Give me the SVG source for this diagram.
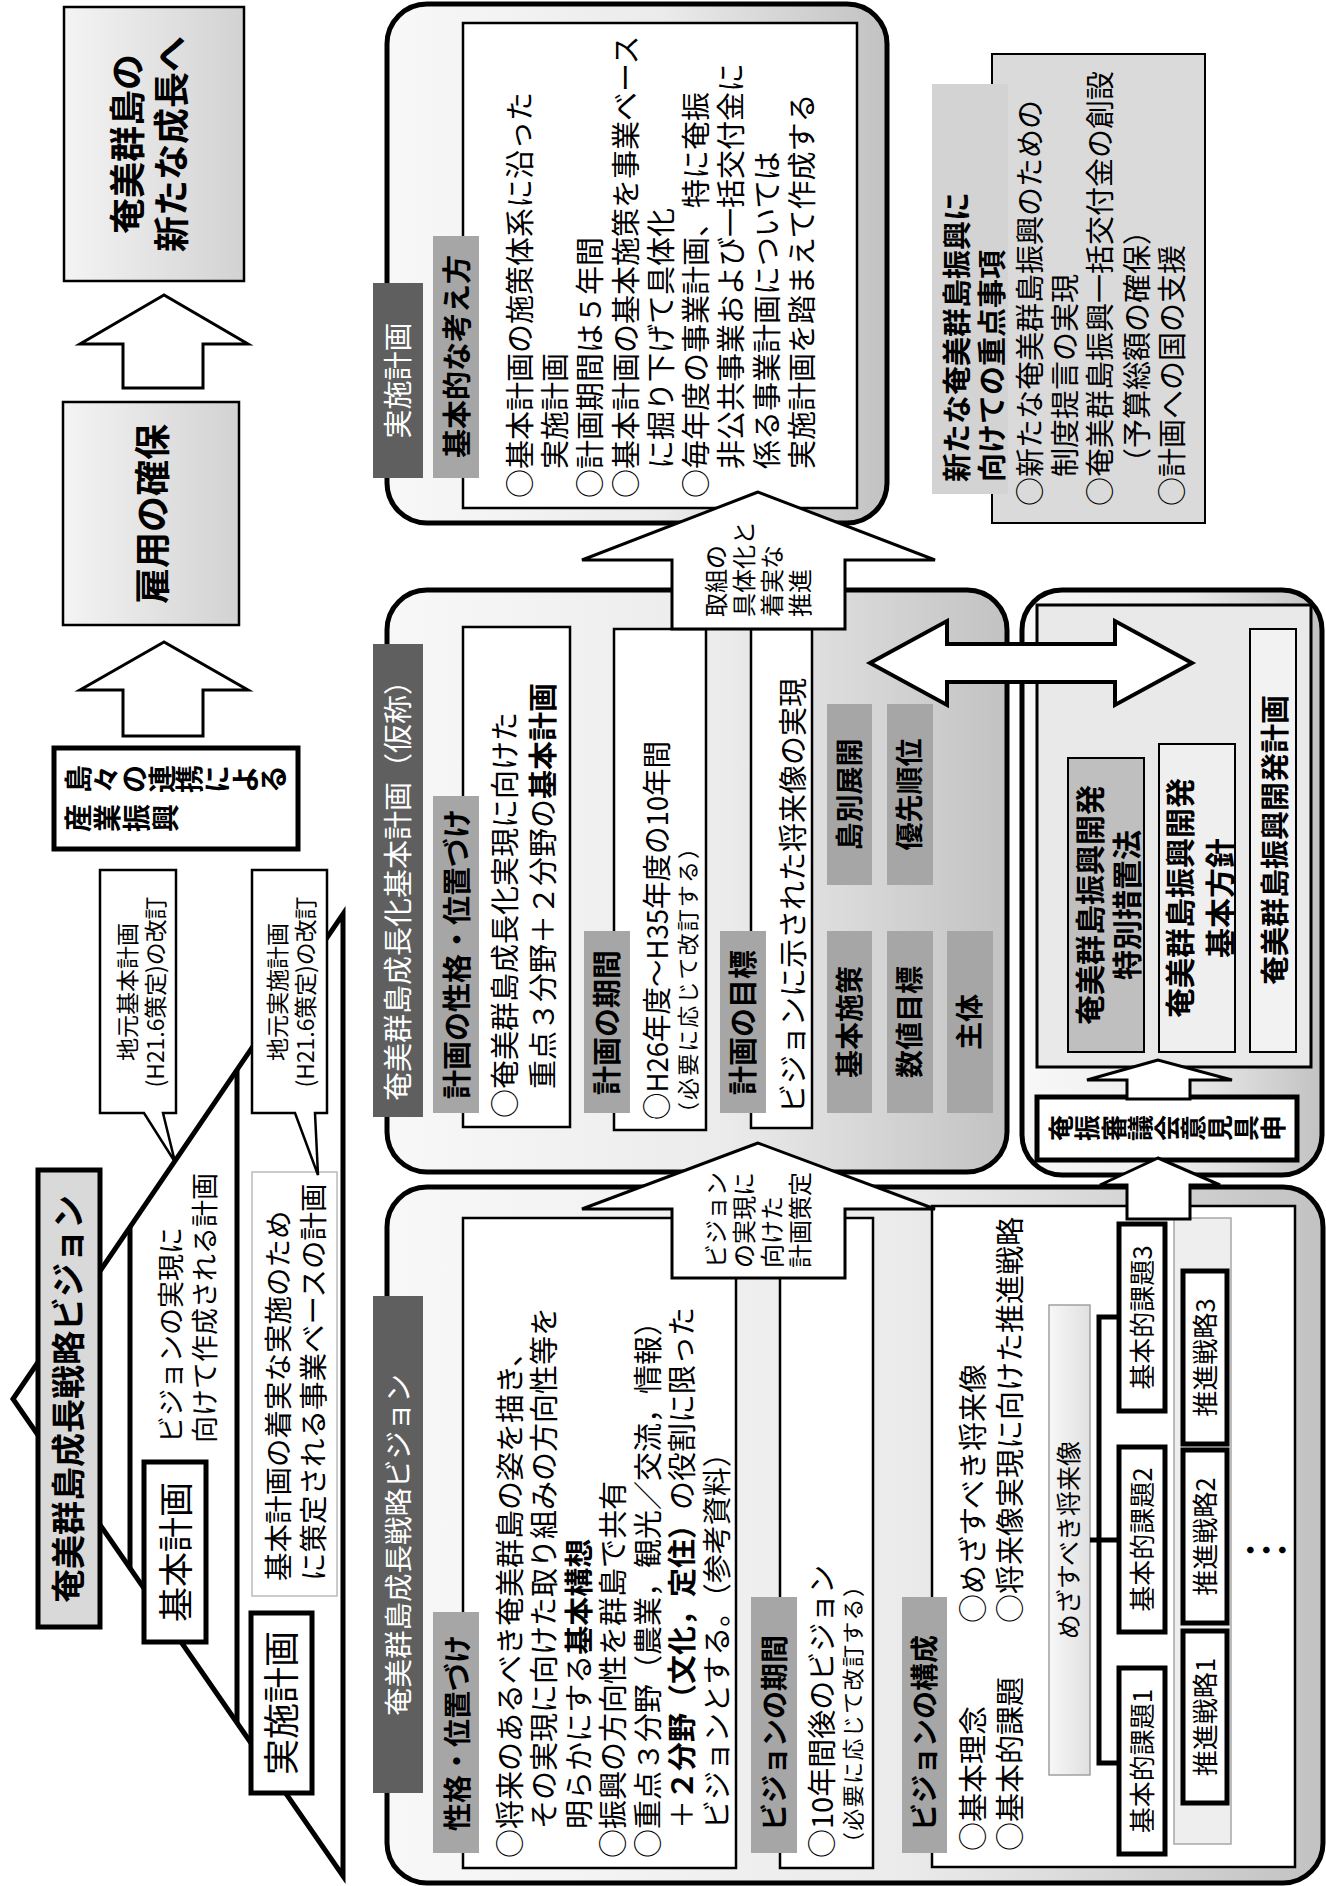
<svg xmlns="http://www.w3.org/2000/svg" width="1326" height="1886" viewBox="0 0 1326 1886">
<defs>
<linearGradient id="gC" x1="0" y1="0" x2="0" y2="1"><stop offset="0" stop-color="#f8f8f8"/><stop offset="0.55" stop-color="#ebebeb"/><stop offset="1" stop-color="#c2c2c2"/></linearGradient>
<linearGradient id="gB" x1="0" y1="0" x2="0" y2="1"><stop offset="0" stop-color="#f4f4f4"/><stop offset="1" stop-color="#d2d2d2"/></linearGradient>
<linearGradient id="gL" x1="0" y1="0" x2="0" y2="1"><stop offset="0" stop-color="#f7f7f7"/><stop offset="1" stop-color="#e0e0e0"/></linearGradient>
<style>
.f{font-family:"Noto Sans CJK JP","Noto Sans",sans-serif;fill:#000}
.b{font-weight:700}
.m{text-anchor:middle}
.wt{fill:#fff}
.s23{font-size:23px}.s24{font-size:24px}.s22{font-size:22px}.s26{font-size:26px}.s27{font-size:27px}.s28{font-size:28px}.s29{font-size:29px}.s30{font-size:30px}.s36{font-size:36px}
.box{fill:#fff;stroke:#000;stroke-width:2.5}
.thk{fill:#fff;stroke:#000;stroke-width:5}
.cont{fill:url(#gC);stroke:#000;stroke-width:5}
.dk{fill:#5f5f5f}
.gy{fill:#a6a6a6}
.arr{fill:#fff;stroke:#000;stroke-width:3;stroke-linejoin:miter}
.ln{fill:none;stroke:#000;stroke-width:5}
</style>
</defs>
<rect width="1326" height="1886" fill="#fff"/>
<g transform="translate(0,1886) rotate(-90)">

<g id="goal">
<rect x="1605" y="64" width="274" height="180" fill="url(#gB)" stroke="#000" stroke-width="2.5"/>
<text class="f b m s36" x="1742" y="141">奄美群島の</text>
<text class="f b m s36" x="1742" y="185">新たな成長へ</text>
</g>

<g id="employment">
<rect x="1261" y="63" width="223" height="176" fill="url(#gB)" stroke="#000" stroke-width="2.5"/>
<text class="f b m s36" x="1372" y="166">雇用の確保</text>
</g>

<g id="industry">
<rect x="1037" y="54" width="101" height="244" class="thk"/>
<text class="f b m s28"><tspan x="1107" y="89.4">島</tspan><tspan x="1107" y="117.2">々</tspan><tspan x="1107" y="144.9">の</tspan><tspan x="1107" y="172.7">連</tspan><tspan x="1107" y="200.4">携</tspan><tspan x="1107" y="228.2">に</tspan><tspan x="1107" y="255.9">よ</tspan><tspan x="1107" y="283.7">る</tspan></text>
<text class="f b m s28"><tspan x="1068" y="89.4">産</tspan><tspan x="1068" y="118.2">業</tspan><tspan x="1068" y="146.9">振</tspan><tspan x="1068" y="175.7">興</tspan></text>
</g>

<g id="pyramid">
<polygon points="487,13 972,343 10,343" fill="#fff" stroke="#000" stroke-width="5"/>
<line x1="318" y1="130" x2="659" y2="130" class="ln"/>
<line x1="163" y1="237" x2="816" y2="237" class="ln"/>
<rect x="259" y="38" width="457" height="62" fill="#d9d9d9" stroke="#000" stroke-width="5"/>
<text class="f b m" style="font-size:34px" x="487" y="80.5">奄美群島成長戦略ビジョン</text>
<rect x="244" y="144" width="180" height="62" class="thk"/>
<text class="f m" style="font-size:35px" x="334" y="189">基本計画</text>
<rect x="93" y="251" width="180" height="61" class="thk"/>
<text class="f m s36" x="183" y="295">実施計画</text>
<text class="f s27" x="443" y="181">ビジョンの実現に</text>
<text class="f s27" x="443" y="215">向けて作成される計画</text>
<rect x="290" y="252" width="424" height="85" fill="#fff" stroke="#bbb" stroke-width="1.5"/>
<text class="f" style="font-size:28.5px" x="305" y="288.5">基本計画の着実な実施のため</text>
<text class="f" style="font-size:28.5px" x="305" y="323.5">に策定される事業ベースの計画</text>
</g>

<g id="callout-basic">
<path d="M773,100 H1016 V176 H773 V163 L724,175 L773,144 Z" fill="#fff" stroke="#000" stroke-width="2.5" stroke-linejoin="miter"/>
<text class="f m s23" x="894" y="135.5">地元基本計画</text>
<text class="f m s23" x="894" y="163.5" textLength="191" lengthAdjust="spacingAndGlyphs">(H21.6策定)の改訂</text>
</g>

<g id="callout-impl">
<path d="M773,252 H1016 V327 H773 V315 L711,318 L773,295 Z" fill="#fff" stroke="#000" stroke-width="2.5" stroke-linejoin="miter"/>
<text class="f m s23" x="894" y="285.5">地元実施計画</text>
<text class="f m s23" x="894" y="313.5" textLength="191" lengthAdjust="spacingAndGlyphs">(H21.6策定)の改訂</text>
</g>

<g id="impl-plan">
<rect x="1363" y="387" width="519" height="500" rx="40" class="cont"/>
<rect x="1378" y="463" width="485" height="394" class="box"/>
<rect x="1408" y="373" width="195" height="50" class="dk"/>
<text class="f wt m s29" x="1505.5" y="408.7">実施計画</text>
<rect x="1408" y="433" width="242" height="46" class="gy"/>
<text class="f b s29" x="1428" y="467.7">基本的な考え方</text>
<text class="f s29" x="1388" y="530.7">○基本計画の施策体系に沿った</text>
<text class="f s29" x="1417" y="565.7">実施計画</text>
<text class="f s29" x="1388" y="601.2">○計画期間は５年間</text>
<text class="f s29" x="1388" y="636.7">○基本計画の基本施策を事業ベース</text>
<text class="f s29" x="1417" y="671.7">に掘り下げて具体化</text>
<text class="f s29" x="1388" y="706.7">○毎年度の事業計画、特に奄振</text>
<text class="f s29" x="1417" y="742.2">非公共事業および一括交付金に</text>
<text class="f s29" x="1417" y="777.7">係る事業計画については</text>
<text class="f s29" x="1417" y="812.7">実施計画を踏まえて作成する</text>
</g>

<g id="priorities">
<rect x="1363" y="992" width="469" height="213" fill="#dadada" stroke="#000" stroke-width="2"/>
<rect x="1392" y="932" width="410" height="76" fill="#d3d3d3"/>
<text class="f b s29" x="1404" y="967.7">新たな奄美群島振興に</text>
<text class="f b s29" x="1404" y="1002.7">向けての重点事項</text>
<text class="f s29" x="1380" y="1040.7">○新たな奄美群島振興のための</text>
<text class="f s29" x="1409" y="1075.7">制度提言の実現</text>
<text class="f s29" x="1380" y="1110.7">○奄美群島振興一括交付金の創設</text>
<text class="f s29" x="1409" y="1147.7">（予算総額の確保）</text>
<text class="f s29" x="1380" y="1182.7">○計画への国の支援</text>
</g>

<g id="basic-plan">
<rect x="714" y="387" width="582" height="620" rx="40" class="cont"/>
<rect x="769" y="373" width="473" height="50" class="dk"/>
<text class="f wt s29" x="785" y="408.7">奄美群島成長化基本計画（仮称）</text>
<rect x="759" y="463" width="500" height="107" class="box"/>
<rect x="773" y="433" width="317" height="46" class="gy"/>
<text class="f b s29" x="787" y="467.7">計画の性格・位置づけ</text>
<text class="f s29" x="768" y="515.7">○奄美群島成長化実現に向けた</text>
<text class="f s29" x="797" y="553.7">重点３分野＋２分野の<tspan class="b">基本計画</tspan></text>
<rect x="756" y="614" width="501" height="92" class="box"/>
<rect x="773" y="584" width="182" height="46" class="gy"/>
<text class="f b s29" x="791" y="617.7">計画の期間</text>
<text class="f s29" x="766" y="667.7" textLength="379" lengthAdjust="spacingAndGlyphs">○H26年度～H35年度の10年間</text>
<text class="f s22" x="762" y="695.8" textLength="287" lengthAdjust="spacing">（必要に応じて改訂する）</text>
<rect x="758" y="751" width="499" height="61" class="box"/>
<rect x="773" y="720" width="182" height="46" class="gy"/>
<text class="f b s29" x="791" y="753.7">計画の目標</text>
<text class="f s29" x="773" y="803.7">ビジョンに示された将来像の実現</text>
<rect x="773" y="827" width="182" height="45" class="gy"/>
<text class="f b m s28" x="864" y="859.9">基本施策</text>
<rect x="1001" y="827" width="181" height="45" class="gy"/>
<text class="f b m s28" x="1091.5" y="859.9">島別展開</text>
<rect x="773" y="887" width="182" height="46" class="gy"/>
<text class="f b m s28" x="864" y="920.4">数値目標</text>
<rect x="1001" y="887" width="181" height="46" class="gy"/>
<text class="f b m s28" x="1091.5" y="920.4">優先順位</text>
<rect x="773" y="947" width="182" height="46" class="gy"/>
<text class="f b m s28" x="864" y="980.4">主体</text>
</g>

<g id="amashin">
<rect x="711" y="1022" width="585" height="300" rx="40" class="cont"/>
<rect x="819" y="1037" width="462" height="274" fill="#e9e9e9" stroke="#000" stroke-width="3"/>
<rect x="834" y="1068" width="294" height="76" fill="#bfbfbf" stroke="#000" stroke-width="2"/>
<text class="f b m s30" x="981" y="1101">奄美群島振興開発</text>
<text class="f b m s30" x="981" y="1138">特別措置法</text>
<rect x="834" y="1159" width="308" height="76" fill="#efefef" stroke="#000" stroke-width="2"/>
<text class="f b m s30" x="988" y="1191">奄美群島振興開発</text>
<text class="f b m s30" x="988" y="1231">基本方針</text>
<rect x="834" y="1250" width="423" height="46" fill="#f2f2f2" stroke="#000" stroke-width="2"/>
<text class="f b m s29" x="1046" y="1286">奄美群島振興開発計画</text>
</g>

<g id="council">
<rect x="726" y="1037" width="63" height="260" class="thk"/>
<text class="f b m s26"><tspan x="758" y="1070.9">奄</tspan><tspan x="758" y="1097.4">振</tspan><tspan x="758" y="1123.9">審</tspan><tspan x="758" y="1150.4">議</tspan><tspan x="758" y="1176.9">会</tspan><tspan x="758" y="1203.4">意</tspan><tspan x="758" y="1229.9">見</tspan><tspan x="758" y="1256.4">具</tspan><tspan x="758" y="1282.9">申</tspan></text>
</g>

<g id="vision">
<rect x="3" y="387" width="696" height="936" rx="40" class="cont"/>
<rect x="93" y="373" width="497" height="50" class="dk"/>
<text class="f wt m" style="font-size:28.5px" x="341" y="408.5">奄美群島成長戦略ビジョン</text>
<rect x="18" y="463" width="650" height="273" class="box"/>
<rect x="33" y="433" width="241" height="46" class="gy"/>
<text class="f b s28" x="55" y="467.5">性格・位置づけ</text>
<text class="f s29" x="28" y="520.7">○将来のあるべき奄美群島の姿を描き、</text>
<text class="f s29" x="57" y="555.2">その実現に向けた取り組みの方向性等を</text>
<text class="f s29" x="57" y="589.7">明らかにする<tspan class="b">基本構想</tspan></text>
<text class="f s29" x="28" y="624.2">○振興の方向性を群島で共有</text>
<text class="f s29" x="28" y="658.7">○重点３分野（農業，観光／交流，情報）</text>
<text class="f s29" x="57" y="693.2">＋<tspan class="b">２分野（文化，定住）</tspan>の役割に限った</text>
<text class="f s29" x="57" y="727.7">ビジョンとする。（参考資料）</text>
<rect x="18" y="780" width="650" height="93" class="box"/>
<rect x="33" y="751" width="256" height="46" class="gy"/>
<text class="f b s28" x="55" y="784.5">ビジョンの期間</text>
<text class="f s29" x="28" y="832.7">○10年間後のビジョン</text>
<text class="f s22" x="32" y="860.8" textLength="279" lengthAdjust="spacing">（必要に応じて改訂する）</text>
<rect x="19" y="932" width="661" height="363" class="box"/>
<rect x="33" y="902" width="256" height="45" class="gy"/>
<text class="f b s28" x="55" y="935">ビジョンの構成</text>
<text class="f s29" x="35" y="983.7">○基本理念</text>
<text class="f s29" x="35" y="1020.7">○基本的課題</text>
<text class="f s29" x="263" y="983.7">○めざすべき将来像</text>
<text class="f s29" x="263" y="1020.7">○将来像実現に向けた推進戦略</text>
<rect x="111" y="1049" width="470" height="41" fill="url(#gL)" stroke="#a0a0a0" stroke-width="1.5"/>
<text class="f m" style="font-size:25px" x="346" y="1078">めざすべき将来像</text>
<rect x="32" y="1119" width="186" height="46" class="thk"/>
<text class="f m s26" x="125" y="1151.6">基本的課題1</text>
<rect x="254" y="1119" width="185" height="46" class="thk"/>
<text class="f m s26" x="346.5" y="1151.6">基本的課題2</text>
<rect x="475" y="1119" width="187" height="46" class="thk"/>
<text class="f m s26" x="568.5" y="1151.6">基本的課題3</text>
<rect x="42" y="1174" width="626" height="57" fill="#eeeeee" stroke="#a8a8a8" stroke-width="1.5"/>
<rect x="83" y="1183" width="172" height="44" class="thk"/>
<text class="f m s26" x="169" y="1214.6">推進戦略1</text>
<rect x="263" y="1183" width="173" height="44" class="thk"/>
<text class="f m s26" x="349.5" y="1214.6">推進戦略2</text>
<rect x="442" y="1183" width="173" height="44" class="thk"/>
<text class="f m s26" x="528.5" y="1214.6">推進戦略3</text>
<text class="f b m s26"><tspan x="336" y="1260">・</tspan><tspan x="336" y="1276">・</tspan><tspan x="336" y="1292">・</tspan></text>
</g>

<g id="connectors">
<polygon class="arr" points="1591,164 1542,80 1542,123 1498,123 1498,203 1542,203 1542,248"/>
<polygon class="arr" points="1244,164 1196,80 1196,123 1150,123 1150,203 1196,203 1196,248"/>
<polygon class="arr" points="1394,758 1326,582 1326,672 1257,672 1257,845 1326,845 1326,935"/>
<text class="f s24" x="1269" y="724.9">取組の</text>
<text class="f s24" x="1269" y="752.9">具体化と</text>
<text class="f s24" x="1269" y="780.9">着実な</text>
<text class="f s24" x="1269" y="808.9">推進</text>
<polygon class="arr" points="743,758 677,582 677,672 608,672 608,845 677,845 677,935"/>
<text class="f s24" x="618" y="724.9">ビジョン</text>
<text class="f s24" x="618" y="752.9">の実現に</text>
<text class="f s24" x="618" y="780.9">向けた</text>
<text class="f s24" x="618" y="808.9">計画策定</text>
<polygon class="arr" style="stroke-width:4" points="1223,870 1265,947 1242,947 1242,1115 1265,1115 1223,1192 1181,1115 1204,1115 1204,947 1181,947"/>
<polygon class="arr" points="826,1158 806,1087 806,1127 787,1127 787,1190 806,1190 806,1232"/>
<polygon class="arr" points="728,1158 701,1100 701,1127 667,1127 667,1190 701,1190 701,1220"/>
<path class="ln" d="M123,1119 V1099 H569 V1119 M346,1090 V1119"/>
</g>

</g>
</svg>
